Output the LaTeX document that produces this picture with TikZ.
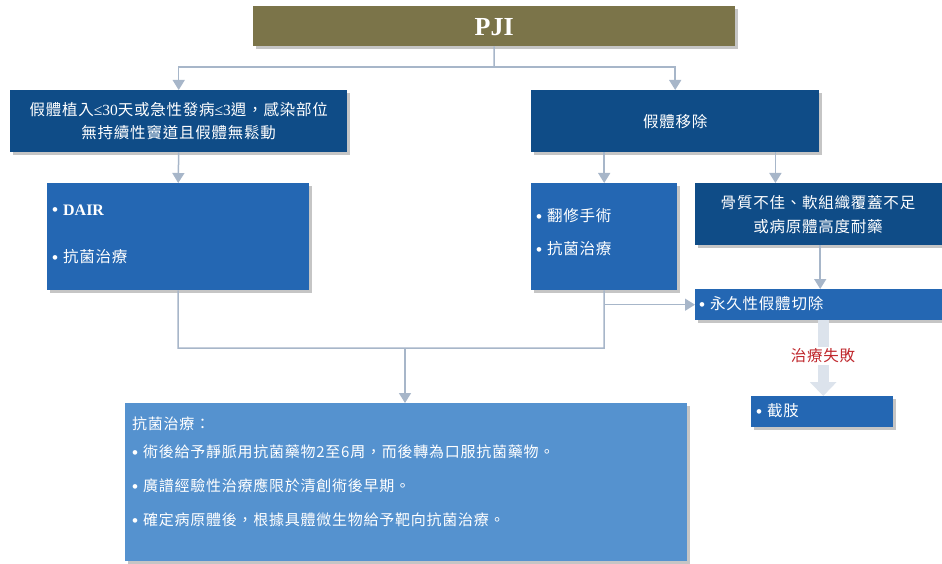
\documentclass[tikz,border=0pt]{standalone}
\usepackage{fontspec}
\setmainfont{Noto Sans CJK TC}[LetterSpace=5]
\newfontfamily\serifb{Liberation Serif}[LetterSpace=0]
\newfontfamily\bulfont{Liberation Sans}
\usetikzlibrary{shadows,arrows.meta}
\definecolor{olive}{HTML}{7B7449}
\definecolor{dblue}{HTML}{0F4C87}
\definecolor{mblue}{HTML}{2467B3}
\definecolor{lblue}{HTML}{5592CF}
\definecolor{conncol}{HTML}{A7B6C9}
\definecolor{fatcol}{HTML}{DCE3EC}
\definecolor{failred}{HTML}{C0282D}
\tikzset{
  box/.style={draw=none, inner sep=0pt, anchor=north west,
    drop shadow={shadow xshift=2.5pt, shadow yshift=-2.5pt, fill=black!45}},
  conn/.style={draw=conncol, line width=1.5pt},
  tip/.style={-{Triangle[width=12pt,length=10pt]}},
  txt/.style={text=white, inner sep=0pt, font=\fontsize{15.5}{23}\selectfont},
  bul/.style={txt, anchor=west},
  bulb/.style={txt, anchor=west, font=\fontsize{15}{23}\selectfont},
}
\newcommand{\bu}{{\bulfont\fontsize{17}{17}\selectfont\raisebox{-0.5pt}{•}}\hspace{5pt}}
\begin{document}
\begin{tikzpicture}[x=1pt,y=-1pt]
\useasboundingbox (0,0) rectangle (942,564);
% boxes
\node[box, fill=olive, minimum width=482pt, minimum height=40pt] (pji) at (253,6) {};
\node[box, fill=dblue, minimum width=337pt, minimum height=62pt] (a) at (10,90) {};
\node[box, fill=dblue, minimum width=288pt, minimum height=62pt] (b) at (531,90) {};
\node[box, fill=mblue, minimum width=262pt, minimum height=107pt] (dair) at (47,183) {};
\node[box, fill=mblue, minimum width=146pt, minimum height=107pt] (rev) at (531,183) {};
\node[box, fill=dblue, minimum width=250pt, minimum height=62pt] (bone) at (695,183) {};
\node[box, fill=mblue, minimum width=250pt, minimum height=31pt] (perm) at (695,289) {};
\node[box, fill=mblue, minimum width=142pt, minimum height=31pt] (amp) at (751,396) {};
\node[box, fill=lblue, minimum width=562pt, minimum height=158pt] (bot) at (125,403) {};
% texts
\node[text=white, font=\serifb\bfseries\fontsize{26}{26}\selectfont] (tpji) at ([yshift=-1pt]pji.center) {PJI};
\node[txt, align=center] (ta) at (a.center) {假體植入{\serifb ≤30}天或急性發病{\serifb ≤3}週，感染部位\\無持續性竇道且假體無鬆動};
\node[txt] (tb) at (b.center) {假體移除};
\node[bul] (td1) at (52,210) {\bu{\serifb\bfseries\fontsize{16}{16}\selectfont DAIR}};
\node[bul] (td2) at (52,257) {\bu 抗菌治療};
\node[bul] (tr1) at (536,216) {\bu 翻修手術};
\node[bul] (tr2) at (536,249) {\bu 抗菌治療};
\node[txt, align=center, font=\fontsize{15.5}{24}\selectfont] (tbone) at (818,215) {骨質不佳、軟組織覆蓋不足\\或病原體高度耐藥};
\node[bul] (tperm) at (699,304) {\bu 永久性假體切除};
\node[bul] (tamp) at (756,411) {\bu 截肢};
\node[bulb] (tbt) at (132,424) {抗菌治療：};
\node[bulb] (tb1) at (132,452) {\bu 術後給予靜脈用抗菌藥物2至6周，而後轉為口服抗菌藥物。};
\node[bulb] (tb2) at (132,486) {\bu 廣譜經驗性治療應限於清創術後早期。};
\node[bulb] (tb3) at (132,520) {\bu 確定病原體後，根據具體微生物給予靶向抗菌治療。};
% connectors
\coordinate (j1) at (494,67);
\draw[conn] (pji.south) -- (j1);
\draw[conn, tip] (j1) -| (a.north);
\draw[conn, tip] (j1) -| (b.north);
\draw[conn, tip] (a.south) -- (dair.north);
\draw[conn, tip] (rev.north |- b.south) -- (rev.north);
\coordinate (bb) at ([xshift=-44pt]b.south east);
\draw[conn, tip] (bb) -- (bb |- bone.north);
\draw[conn, tip] (bone.south) -- (perm.north);
\coordinate (j2) at (604,348);
\coordinate (j3) at (405,348);
\draw[conn] (rev.south) -- (j2) -- (j2 -| dair.south) -- (dair.south);
\draw[conn, tip] (rev.south |- perm.west) -- (perm.west);
\draw[conn, tip] (j3) -- (j3 |- bot.north);
% failure arrow
\draw[draw=fatcol, line width=11pt, -{Triangle[width=26pt,length=14pt]}] ([xshift=3pt]perm.south) -- ([xshift=3pt]perm.south |- amp.north);
\node[fill=white, text=failred, inner sep=1.5pt, font=\fontsize{15.5}{15.5}\selectfont] (fail) at (823,356) {治療失敗};
\end{tikzpicture}
\end{document}
